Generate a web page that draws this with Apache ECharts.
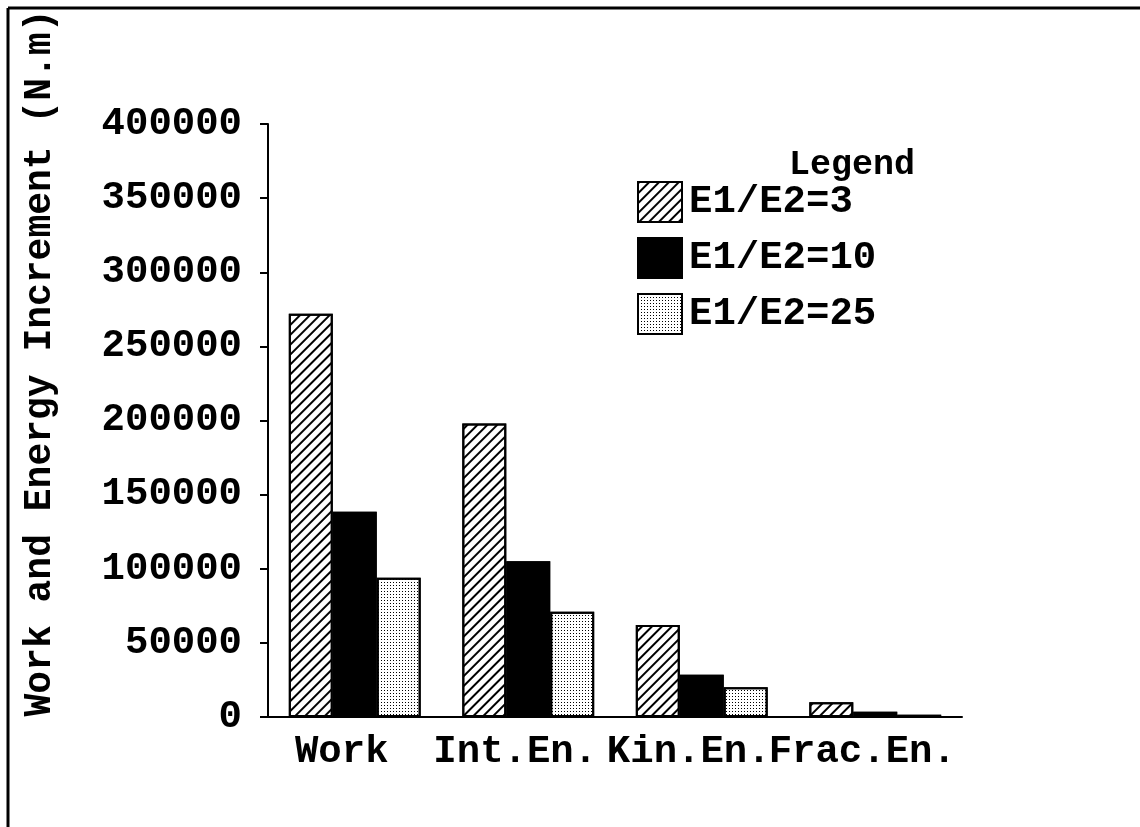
<!DOCTYPE html>
<html>
<head>
<meta charset="utf-8">
<script src="https://cdn.jsdelivr.net/npm/echarts@6/dist/echarts.min.js"></script>
<style>
  html, body { margin: 0; padding: 0; background: #fff; }
  #chart { width: 1140px; height: 827px; }
</style>
</head>
<body>
<div id="chart"></div>
<script>
// categories and values
const categories = ["Work", "Int.En.", "Kin.En.", "Frac.En."];
const seriesNames = ["E1/E2=3", "E1/E2=10", "E1/E2=25"];
const ratio3 = [272000, 198000, 62000, 10000];
const ratio10 = [138500, 105000, 28500, 3500];
const ratio25 = [94000, 71000, 20000, 1500];
const yTicks = [0, 50000, 100000, 150000, 200000, 250000, 300000, 350000, 400000];

const FONT = "Liberation Mono";

const chart = echarts.init(document.getElementById("chart"), null, { renderer: "canvas" });

const hatch = {
  symbol: "rect",
  symbolSize: 1,
  color: "#000",
  dashArrayX: [[1, 0]],
  dashArrayY: [2, 5],
  rotation: -Math.PI / 4,
};

const dots = {
  symbol: "rect",
  symbolSize: 1,
  color: "#000",
  dashArrayX: [1, 2],
  dashArrayY: [1, 2],
  rotation: 0,
};

const option = {
  animation: false,
  backgroundColor: "#fff",
  aria: { enabled: true, decal: { show: true } },
  title: {
    text: "Legend",
    left: 784,
    top: 143,
    textStyle: { fontFamily: FONT, fontSize: 35, fontWeight: "bold", color: "#000" },
  },
  legend: {
    orient: "vertical",
    left: 632,
    top: 176,
    itemWidth: 44,
    itemHeight: 40,
    itemGap: 14,
    icon: "rect",
    textStyle: { fontFamily: FONT, fontSize: 39, fontWeight: "bold", color: "#000", padding: [0, 0, 0, 2] },
    data: seriesNames,
  },
  grid: {
    left: 268,
    right: 178,
    top: 124,
    bottom: 110,
  },
  xAxis: {
    type: "category",
    data: categories,
    axisLine: { lineStyle: { color: "#000", width: 2 } },
    axisTick: { alignWithLabel: true, length: 8, lineStyle: { color: "#000", width: 2 } },
    axisLabel: {
      fontFamily: FONT,
      fontSize: 39,
      fontWeight: "bold",
      color: "#000",
      margin: 16,
      padding: [0, 26, 0, 0],
      interval: 0,
    },
  },
  yAxis: {
    type: "value",
    min: yTicks[0],
    max: yTicks[yTicks.length - 1],
    interval: yTicks[1] - yTicks[0],
    splitLine: { show: false },
    axisLine: { show: true, lineStyle: { color: "#000", width: 2 } },
    axisTick: { show: true, length: 8, lineStyle: { color: "#000", width: 2 } },
    axisLabel: {
      fontFamily: FONT,
      fontSize: 39,
      fontWeight: "bold",
      color: "#000",
      margin: 26,
      formatter: (v) => String(v),
    },
  },
  graphic: [
    {
      type: "text",
      x: 40,
      y: 363,
      rotation: Math.PI / 2,
      style: {
        text: "Work and Energy Increment (N.m)",
        fontFamily: FONT,
        fontSize: 38,
        fontWeight: "bold",
        fill: "#000",
        textAlign: "center",
        textVerticalAlign: "middle",
      },
    },
    { type: "line", shape: { x1: 8, y1: 8, x2: 1140, y2: 8 }, style: { stroke: "#000", lineWidth: 3 } },
    { type: "line", shape: { x1: 8, y1: 8, x2: 8, y2: 827 }, style: { stroke: "#000", lineWidth: 3 } },
  ],
  series: [
    {
      name: seriesNames[0],
      type: "bar",
      data: ratio3,
      barGap: "0%",
      barCategoryGap: "24%",
      itemStyle: { color: "#fff", borderColor: "#000", borderWidth: 2, decal: hatch },
    },
    {
      name: seriesNames[1],
      type: "bar",
      data: ratio10,
      itemStyle: { color: "#000", borderColor: "#000", borderWidth: 2, decal: { symbol: "none" } },
    },
    {
      name: seriesNames[2],
      type: "bar",
      data: ratio25,
      itemStyle: { color: "#fff", borderColor: "#000", borderWidth: 2, decal: dots },
    },
  ],
};

chart.setOption(option);
</script>
</body>
</html>
